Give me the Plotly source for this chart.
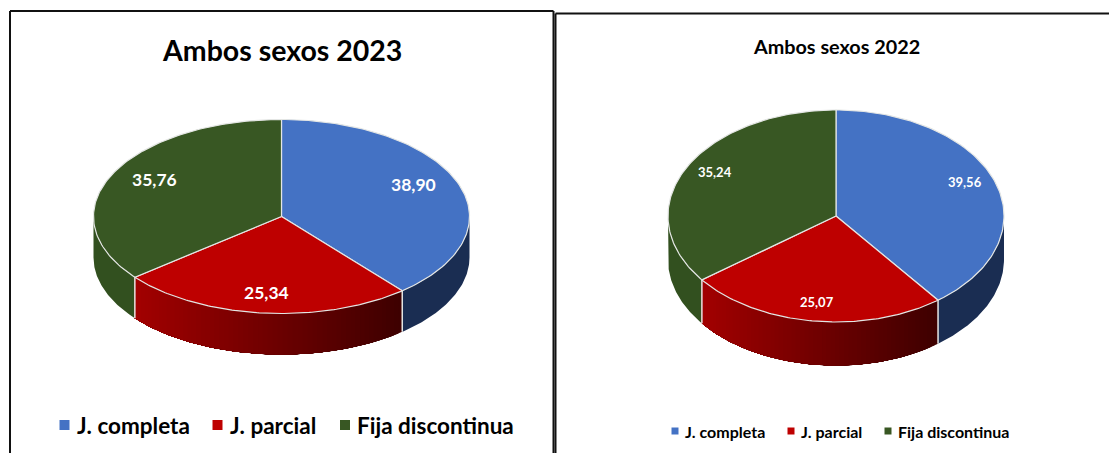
import numpy as np
import plotly.graph_objects as go

categories = ["J. completa", "J. parcial", "Fija discontinua"]
values_2023 = [38.90, 25.34, 35.76]
values_2022 = [39.56, 25.07, 35.24]
labels_2023 = ["38,90", "25,34", "35,76"]
labels_2022 = ["39,56", "25,07", "35,24"]
title_2023 = "Ambos sexos 2023"
title_2022 = "Ambos sexos 2022"

TOP = ["#4472C4", "#BE0000", "#385723"]
SIDE_BLUE = "#1A2D52"
SIDE_GREEN = "#32501F"
RED_L = (163, 0, 0)
RED_R = (62, 0, 0)
EDGE = "#E4E6E4"
FONT = "Lato"

# pixel-mapped canvas; each panel: centre, radii, depth, label offsets, text sizes, legend layout
PANELS = [
    dict(values=values_2023, labels=labels_2023, title=title_2023,
         cx=281.5, cy=216.5, rx=188, ry=97, depth=41,
         offs=[(8, -9), (-2, 8), (-8, -8)], lab_size=17.5,
         title_xy=(281.5, 50), title_size=28.5,
         leg_y=425, leg_sq=10, leg_size=22.5,
         leg_x=[64.5, 217.5, 345], leg_gap=10),
    dict(values=values_2022, labels=labels_2022, title=title_2022,
         cx=836, cy=216, rx=168, ry=106, depth=43.5,
         offs=[(18, -10), (-3, 12), (-16, -11)], lab_size=13,
         title_xy=(836.5, 46), title_size=19.8,
         leg_y=431, leg_sq=7, leg_size=16,
         leg_x=[675, 791, 888], leg_gap=8),
]


def pt(p, t, drop=0.0):
    return p["cx"] + p["rx"] * np.sin(t), p["cy"] - p["ry"] * np.cos(t) + drop


fig = go.Figure()


def poly(xs, ys, fill, line=None, width=0):
    fig.add_trace(go.Scatter(
        x=list(xs), y=list(ys), mode="lines", fill="toself", fillcolor=fill,
        line=dict(color=line or fill, width=width), hoverinfo="skip", showlegend=False))


annotations = []
for p in PANELS:
    total = sum(p["values"])
    edges = 2 * np.pi * np.cumsum([0] + p["values"]) / total
    d = p["depth"]

    def side(a, b, color):
        ts = np.linspace(a, b, 80)
        x1, y1 = pt(p, ts)
        x2, y2 = pt(p, ts[::-1], d)
        poly(np.r_[x1, x2], np.r_[y1, y2], color)

    # blue side, from the right extreme to the end of the blue slice
    side(np.pi / 2, edges[1], SIDE_BLUE)
    # green side, from the start of the green slice to the left extreme
    side(edges[2], 3 * np.pi / 2, SIDE_GREEN)
    # red side: painted right to left, each layer covering what remains, so no seams
    xa = pt(p, edges[2])[0]
    xb = pt(p, edges[1])[0]
    for a in np.linspace(edges[1], edges[2], 61)[:-1]:
        f = (pt(p, a)[0] - xa) / (xb - xa)
        c = [int(round(l + (r - l) * f)) for l, r in zip(RED_L, RED_R)]
        side(a, edges[2], f"rgb({c[0]},{c[1]},{c[2]})")
    # light seams on the side wall
    for e in (edges[1], edges[2]):
        x, y = pt(p, e)
        fig.add_trace(go.Scatter(x=[x, x], y=[y, y + d], mode="lines",
                                 line=dict(color=EDGE, width=1.5),
                                 hoverinfo="skip", showlegend=False))
    # top face
    for i in range(3):
        ts = np.linspace(edges[i], edges[i + 1], 120)
        x, y = pt(p, ts)
        poly(np.r_[p["cx"], x, p["cx"]], np.r_[p["cy"], y, p["cy"]], TOP[i], EDGE, 1.2)

    # value labels
    for i, (lab, off) in enumerate(zip(p["labels"], p["offs"])):
        mid = (edges[i] + edges[i + 1]) / 2
        x, y = pt(p, mid)
        x = p["cx"] + (x - p["cx"]) * 0.7
        y = p["cy"] + (y - p["cy"]) * 0.7
        annotations.append(dict(x=x, y=y, text=f"<b>{lab}</b>", showarrow=False,
                                xshift=off[0], yshift=-off[1],
                                font=dict(family=FONT, size=p["lab_size"], color="white")))
    # title
    annotations.append(dict(x=p["title_xy"][0], y=p["title_xy"][1],
                            text=f"<b>{p['title']}</b>", showarrow=False,
                            font=dict(family=FONT, size=p["title_size"], color="black")))
    # legend
    for i, name in enumerate(categories):
        fig.add_trace(go.Scatter(x=[p["leg_x"][i]], y=[p["leg_y"]], mode="markers",
                                 marker=dict(symbol="square", size=p["leg_sq"], color=TOP[i]),
                                 hoverinfo="skip", showlegend=False))
        annotations.append(dict(x=p["leg_x"][i], y=p["leg_y"], xanchor="left",
                                xshift=p["leg_gap"], text=f"<b>{name}</b>", showarrow=False,
                                font=dict(family=FONT, size=p["leg_size"], color="black")))

frames = [
    dict(x0=10, x1=10, y0=11, y1=453),
    dict(x0=10, x1=553.5, y0=11, y1=11),
    dict(x0=553.5, x1=553.5, y0=11, y1=453),
    dict(x0=555.5, x1=555.5, y0=13.5, y1=453),
    dict(x0=555.5, x1=1109, y0=13.5, y1=13.5),
]
shapes = [dict(type="line", xref="x", yref="y", line=dict(color="#111111", width=2), **f) for f in frames]

fig.update_layout(
    width=1109, height=453, margin=dict(l=0, r=0, t=0, b=0),
    paper_bgcolor="white", plot_bgcolor="white", showlegend=False,
    xaxis=dict(range=[0, 1109], visible=False, fixedrange=True),
    yaxis=dict(range=[453, 0], visible=False, fixedrange=True),
    annotations=annotations, shapes=shapes,
)
fig.write_html("out.html", config=dict(displayModeBar=False),
               post_script="document.body.style.margin='0';document.body.style.overflow='hidden';")
